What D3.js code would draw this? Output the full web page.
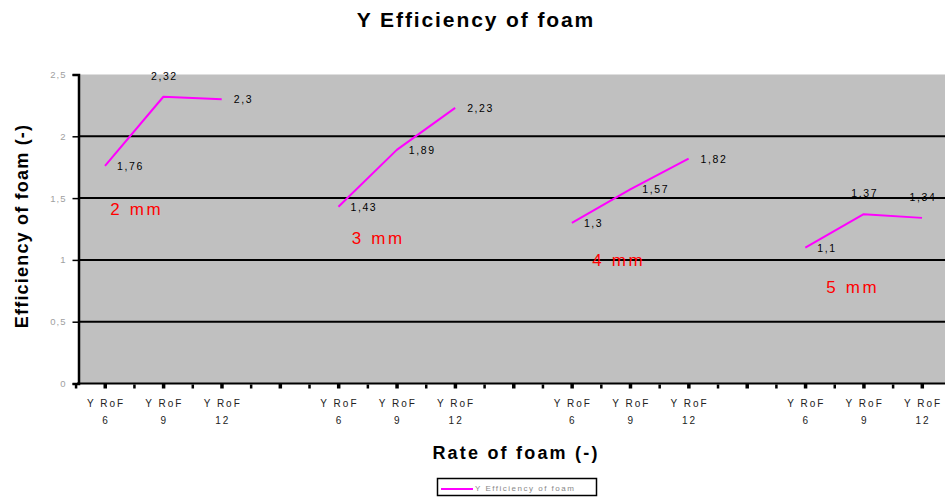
<!DOCTYPE html>
<html>
<head>
<meta charset="utf-8">
<script src="https://cdn.jsdelivr.net/npm/d3@7"></script>
<style>
  html, body { margin: 0; padding: 0; background: #ffffff; }
  svg { display: block; font-family: "Liberation Sans", Arial, sans-serif; }
</style>
</head>
<body>
<svg id="chart" width="945" height="501"></svg>
<script>
// ---------------- data ----------------
const groups = ["2 mm", "3 mm", "4 mm", "5 mm"];
const rates = ["6", "9", "12"];
const tickPrefix = "Y RoF";
const values2mm = [1.76, 2.32, 2.30];
const values3mm = [1.43, 1.89, 2.23];
const values4mm = [1.30, 1.57, 1.82];
const values5mm = [1.10, 1.37, 1.34];
const yTicks = [0, 0.5, 1, 1.5, 2, 2.5];
const seriesName = "Y Efficiency of foam";
const chartTitle = "Y Efficiency of foam";
const xTitle = "Rate of foam (-)";
const yTitle = "Efficiency of foam (-)";

// ---------------- styling / layout ----------------
const seriesValues = [values2mm, values3mm, values4mm, values5mm];
const labelPlacement = [
  ["right", "above", "right"],
  ["right", "right", "right"],
  ["right", "right", "right"],
  ["right", "above", "above"]
];
const annotSlotOffset = [0.09, 0.23, 0.35, 0.36];
const annotValue = [1.36, 1.13, 0.95, 0.73];

const magenta = "#ff00ff";
const svg = d3.select("#chart");

const slots = [];
groups.forEach((g, gi) => {
  rates.forEach((r, ri) => slots.push({ key: g + "|" + r, rate: r, gi, ri }));
  slots.push({ key: g + "|gap", rate: null, gi, ri: -1 });
});

const plotLeft = 80, plotRight = 960, plotTop = 74.5, plotBottom = 383.5;
const x = d3.scalePoint().domain(slots.map(s => s.key)).range([105, 105 + 58.36 * (slots.length - 1)]);
const y = d3.scaleLinear().domain([0, 2.5]).range([plotBottom, plotTop]);
const step = x.step();

svg.append("rect")
  .attr("x", plotLeft).attr("y", plotTop)
  .attr("width", plotRight - plotLeft).attr("height", plotBottom - plotTop)
  .attr("fill", "#c0c0c0");

svg.append("g").selectAll("line")
  .data(yTicks.filter(v => v > 0 && v < 2.5))
  .join("line")
  .attr("x1", plotLeft).attr("x2", plotRight)
  .attr("y1", d => y(d)).attr("y2", d => y(d))
  .attr("stroke", "#000").attr("stroke-width", 2);

const yAxis = d3.axisLeft(y).tickValues(yTicks).tickSize(6).tickPadding(6)
  .tickFormat(d => String(d).replace(".", ","));
const gy = svg.append("g").attr("transform", `translate(${78.5},0)`).call(yAxis);
gy.select(".domain").attr("stroke", "#000").attr("stroke-width", 2.5);
gy.selectAll(".tick line").attr("stroke", "#000").attr("stroke-width", 1.5);
gy.selectAll(".tick text")
  .attr("fill", "#a0a0a0").attr("font-size", 9.5).attr("letter-spacing", 1)
  .attr("font-family", "Liberation Sans, Arial, sans-serif");

svg.append("line")
  .attr("x1", 77).attr("x2", plotRight)
  .attr("y1", plotBottom).attr("y2", plotBottom)
  .attr("stroke", "#000").attr("stroke-width", 2);

svg.append("g").selectAll("rect")
  .data(slots)
  .join("rect")
  .attr("x", d => x(d.key) - 1.5).attr("y", plotBottom)
  .attr("width", 3.5).attr("height", 5)
  .attr("fill", "#000");
svg.append("g").selectAll("rect")
  .data(slots)
  .join("rect")
  .attr("x", d => x(d.key) - step / 2 - 1).attr("y", plotBottom + 1)
  .attr("width", 2.5).attr("height", 4)
  .attr("fill", "#000");

const xl = svg.append("g").selectAll("text")
  .data(slots.filter(s => s.rate !== null))
  .join("text")
  .attr("text-anchor", "middle")
  .attr("fill", "#222")
  .attr("font-size", 10)
  .attr("letter-spacing", 2);
xl.append("tspan").attr("x", d => x(d.key) + 1).attr("y", 407).text(tickPrefix);
xl.append("tspan").attr("x", d => x(d.key) + 1).attr("y", 423.5).text(d => d.rate);

const line = d3.line().x(d => x(d.key)).y(d => y(d.v));
groups.forEach((g, gi) => {
  const pts = rates.map((r, ri) => ({ key: g + "|" + r, v: seriesValues[gi][ri], place: labelPlacement[gi][ri] }));
  svg.append("path")
    .datum(pts)
    .attr("d", line)
    .attr("fill", "none")
    .attr("stroke", magenta)
    .attr("stroke-width", 2)
    .attr("stroke-linejoin", "round");

  svg.append("g").selectAll("text")
    .data(pts)
    .join("text")
    .attr("x", d => d.place === "right" ? x(d.key) + 12 : x(d.key) + 1)
    .attr("y", d => d.place === "right" ? y(d.v) + 4 : y(d.v) - 17)
    .attr("text-anchor", d => d.place === "right" ? "start" : "middle")
    .attr("font-size", 10.5)
    .attr("letter-spacing", 1.6)
    .attr("fill", "#000")
    .text(d => String(d.v).replace(".", ","));

  svg.append("text")
    .attr("x", x(g + "|" + rates[0]) + annotSlotOffset[gi] * step)
    .attr("y", y(annotValue[gi]))
    .attr("font-size", 17)
    .attr("letter-spacing", 2.6)
    .attr("fill", "#ff0000")
    .text(g);
});

svg.append("text")
  .attr("x", 476).attr("y", 27)
  .attr("text-anchor", "middle")
  .attr("font-size", 21).attr("font-weight", "bold")
  .attr("letter-spacing", 1.9)
  .attr("fill", "#000")
  .text(chartTitle);

svg.append("text")
  .attr("x", 516).attr("y", 459)
  .attr("text-anchor", "middle")
  .attr("font-size", 18).attr("font-weight", "bold")
  .attr("letter-spacing", 2.2)
  .attr("fill", "#000")
  .text(xTitle);

svg.append("text")
  .attr("transform", "translate(28,226) rotate(-90)")
  .attr("text-anchor", "middle")
  .attr("font-size", 18).attr("font-weight", "bold")
  .attr("letter-spacing", 1.2)
  .attr("fill", "#000")
  .text(yTitle);

const lg = svg.append("g");
lg.append("rect")
  .attr("x", 437.5).attr("y", 478.5).attr("width", 159).attr("height", 17)
  .attr("fill", "#fff").attr("stroke", "#000").attr("stroke-width", 1.5);
lg.append("line")
  .attr("x1", 441).attr("x2", 473).attr("y1", 489).attr("y2", 489)
  .attr("stroke", magenta).attr("stroke-width", 2);
lg.append("text")
  .attr("x", 475).attr("y", 491)
  .attr("font-size", 8).attr("letter-spacing", 1.5)
  .attr("fill", "#888")
  .text(seriesName);
</script>
</body>
</html>
